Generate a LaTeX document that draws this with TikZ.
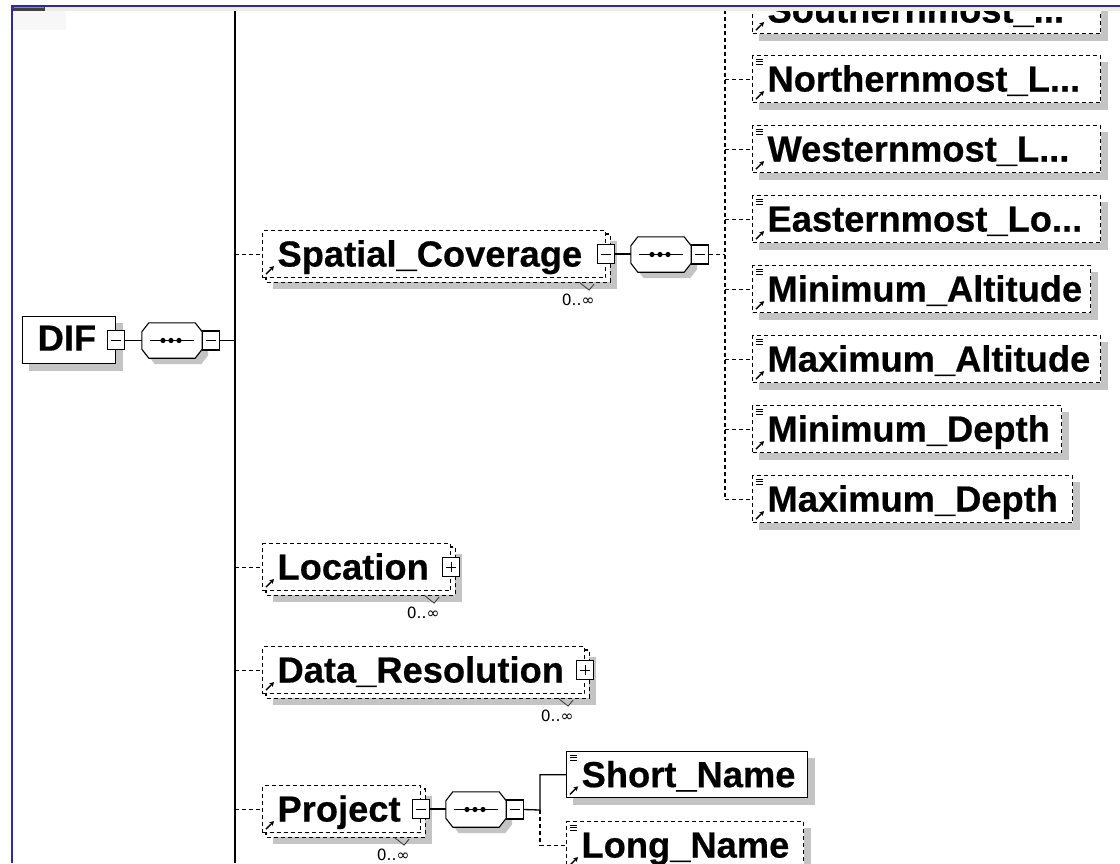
\documentclass[tikz,border=0pt]{standalone}
\usepackage{fontspec}
\setmainfont{Liberation Sans}
\newfontfamily\elemfont{Liberation Sans}[BoldFeatures={FakeBold=0.5}]
\newfontfamily\occfont{DejaVu Sans}
\usetikzlibrary{arrows.meta,backgrounds}

\definecolor{framebl}{RGB}{44,44,152}
\definecolor{barbeige}{RGB}{238,238,224}
\definecolor{shadowgr}{RGB}{196,196,196}
\definecolor{bardark}{RGB}{64,64,64}

\tikzset{
  elembox/.style={draw, fill=white, line width=1.1pt, dash pattern=on 4pt off 3pt,
    inner xsep=15pt, inner ysep=0pt, text height=32pt, text depth=7pt,
    minimum height=47pt, align=left, anchor=north west,
    font=\elemfont\fontsize{36.3pt}{40pt}\selectfont\bfseries},
  reqbox/.style={elembox, solid, line width=1.3pt},
  optline/.style={line width=1.1pt, dash pattern=on 4pt off 3pt},
  reqline/.style={line width=1.3pt},
  trunkline/.style={line width=2pt},
  seqline/.style={draw, fill=white, line width=1.1pt},
  seqnode/.style={minimum width=60pt, minimum height=35pt, inner sep=0pt},
  collapse/.style={draw, fill=white, solid, line width=1.1pt, minimum width=17pt,
    minimum height=19pt, inner sep=0pt,
    path picture={\draw[line width=1pt] ([xshift=-5pt]path picture bounding box.center)
      -- ([xshift=5pt]path picture bounding box.center);}},
  expand/.style={draw, fill=white, solid, line width=1.1pt, minimum width=17pt,
    minimum height=19pt, inner sep=0pt,
    path picture={\draw[line width=1pt] ([xshift=-5pt]path picture bounding box.center)
      -- ([xshift=5pt]path picture bounding box.center)
      ([yshift=-5pt]path picture bounding box.center)
      -- ([yshift=5pt]path picture bounding box.center);}},
  occlabel/.style={font=\occfont\fontsize{15.5pt}{17pt}\selectfont, inner sep=0pt},
}

% gray drop shadow behind a box
\newcommand\shadowof[2]{%
  \fill[shadowgr] ([shift={(#2,#2)}]#1.north west) rectangle ([shift={(#2,#2)}]#1.south east);}
% second box behind a repeatable element
\newcommand\backof[1]{%
  \draw[optline, fill=white] ([shift={(4,4)}]#1.north west) rectangle ([shift={(4,4)}]#1.south east);}
% occurrence range under a repeatable element
\newcommand\occurs[2]{%
  \node[occlabel] (#2) at ([shift={(-28,21.5)}]#1.south east) {0..∞};
  \draw[line width=0.8pt, black!80] ([shift={(-27,4)}]#1.south east)
    -- ([shift={(-17,12)}]#1.south east) -- ([shift={(-12,6)}]#1.south east);}
% simple-content mark (top left) and reference arrow (bottom left)
\newcommand\leafmark[1]{%
  \foreach \k in {0,2.5,5} \draw[line width=0.9pt] ([shift={(4,4+\k)}]#1.north west) -- ++(7,0);}
\newcommand\refmark[1]{%
  \draw[line width=1.5pt,-{Stealth[length=4.5pt,width=5pt]}] ([shift={(4,-4)}]#1.south west) -- ++(8,-8);}
% sequence compositor: octagon with a dotted line
\newcommand\octagon[1]{%
  \draw[seqline] ([xshift=7pt]#1.north west) -- ([xshift=-7pt]#1.north east)
    -- ([yshift=-9pt]#1.north east) -- ([yshift=9pt]#1.south east)
    -- ([xshift=-7pt]#1.south east) -- ([xshift=7pt]#1.south west)
    -- ([yshift=9pt]#1.south west) -- ([yshift=-9pt]#1.north west) -- cycle;
  \draw[line width=1.2pt] ([xshift=-22pt]#1.center) -- ([xshift=22pt]#1.center);
  \foreach \dx in {-9,-1,7} \fill ([xshift=\dx pt]#1.center) circle[radius=2.6pt];}
\newcommand\octshadow[1]{%
  \fill[shadowgr] ([shift={(6,6)},xshift=7pt]#1.north west) -- ([shift={(6,6)},xshift=-7pt]#1.north east)
    -- ([shift={(6,6)},yshift=-9pt]#1.north east) -- ([shift={(6,6)},yshift=9pt]#1.south east)
    -- ([shift={(6,6)},xshift=-7pt]#1.south east) -- ([shift={(6,6)},xshift=7pt]#1.south west)
    -- ([shift={(6,6)},yshift=9pt]#1.south west) -- ([shift={(6,6)},yshift=-9pt]#1.north west) -- cycle;}

\begin{document}
\begin{tikzpicture}[x=1pt,y=-1pt]
\useasboundingbox (0,0) rectangle (1120,863);

\begin{scope}
\clip (12.8,11) rectangle (1120,863);
\fill[black!3] (12.8,11) rectangle (66,30);

% root element and its sequence
\node[reqbox, text width=63pt, text depth=11pt] (dif) at (22,316) {DIF};
\node[collapse] (difx) at (dif.east) {};
\node[seqnode] (seq1) at (172,340.5) {};
\octagon{seq1}
\node[collapse] (seq1x) at ([xshift=8.5pt]seq1.east) {};

\coordinate (trunktop) at (235,11);
\coordinate (trunkbot) at (235,863);

% children of DIF
\node[elembox, text width=313pt] (sc) at (262,230) {Spatial\_Coverage};
\node[collapse] (scx) at (sc.east) {};
\node[elembox, text width=158pt] (loc) at (262,543) {Location};
\node[expand] (locx) at (loc.east) {};
\node[elembox, text width=292pt] (dr) at (262,646) {Data\_Resolution};
\node[expand] (drx) at (dr.east) {};
\node[elembox, text width=128pt] (pr) at (262,785) {Project};
\node[collapse] (prx) at (pr.east) {};

% sequence of Spatial_Coverage
\node[seqnode] (seq2) at (661,254.5) {};
\octagon{seq2}
\node[collapse] (seq2x) at ([xshift=8.5pt]seq2.east) {};
\coordinate (branch) at (725,254.5);

\node[elembox, text width=318pt] (south) at (752,-14) {Southernmost\_...};
\node[elembox, text width=318pt] (north) at (752,55) {Northernmost\_L...};
\node[elembox, text width=318pt] (west) at (752,125) {Westernmost\_L...};
\node[elembox, text width=318pt] (east) at (752,195) {Easternmost\_Lo...};
\node[elembox, text width=308pt] (minalt) at (752,265) {Minimum\_Altitude};
\node[elembox, text width=318pt] (maxalt) at (752,335) {Maximum\_Altitude};
\node[elembox, text width=279pt] (mindep) at (752,405) {Minimum\_Depth};
\node[elembox, text width=290pt] (maxdep) at (752,475) {Maximum\_Depth};

% sequence of Project
\node[seqnode] (seq3) at (476,809.5) {};
\octagon{seq3}
\node[collapse] (seq3x) at ([xshift=8.5pt]seq3.east) {};
\coordinate (pjoin) at (540,810);
\node[reqbox, text width=211pt, minimum height=46pt] (short) at (566,751) {Short\_Name};
\node[elembox, text width=207pt] (long) at (566,821) {Long\_Name};

% marks inside the boxes
\foreach \n in {south,north,west,east,minalt,maxalt,mindep,maxdep,short,long} {\leafmark{\n}}
\foreach \n in {sc,loc,dr,pr,south,north,west,east,minalt,maxalt,mindep,maxdep,short,long} {\refmark{\n}}

% occurrence ranges
\occurs{sc}{scocc}
\occurs{loc}{lococc}
\occurs{dr}{drocc}
\occurs{pr}{procc}

% connectors
\draw[trunkline] (trunktop) -- (trunkbot);
\draw[reqline] (difx.east) -- (difx.east -| seq1.west);
\draw[reqline] (seq1x.east) -- (seq1x.east -| trunktop);
\foreach \n in {sc,loc,dr,pr} {\draw[optline] (\n.west -| trunktop) -- (\n.west);}

\draw[reqline] (scx.east) -- (scx.east -| seq2.west);
\draw[optline] (seq2x.east) -- (branch);
\draw[optline] (south.west -| branch) -- (maxdep.west -| branch);
\foreach \n in {south,north,west,east,minalt,maxalt,mindep,maxdep} {\draw[optline] (\n.west -| branch) -- (\n.west);}

\draw[reqline] (prx.east) -- (prx.east -| seq3.west);
\draw[reqline] (seq3x.east) -- (pjoin) |- (short.west);
\draw[optline] (pjoin) |- (long.west);

% shadows and stacked boxes
\begin{scope}[on background layer]
\fill[white] (0,0) rectangle (1120,863);
\clip (12.8,11) rectangle (1120,863);
\foreach \n in {dif,south,north,west,east,minalt,maxalt,mindep,maxdep,short,long} {\shadowof{\n}{7}}
\foreach \n in {sc,loc,dr,pr} {\shadowof{\n}{11}\backof{\n}}
\foreach \n in {seq1,seq2,seq3} {\octshadow{\n}}
\end{scope}
\end{scope}

% window frame
\fill[barbeige] (12.8,6.8) rectangle (1120,11);
\fill[bardark] (12.8,6.8) rectangle (45,10.6);
\draw[black!45, line width=0.6pt] (13.5,7.6) -- (44,7.6);
\draw[framebl, line width=2pt] (10.8,6) -- (1120,6);
\draw[framebl, line width=2pt] (11.8,5) -- (11.8,863);
\end{tikzpicture}
\end{document}
